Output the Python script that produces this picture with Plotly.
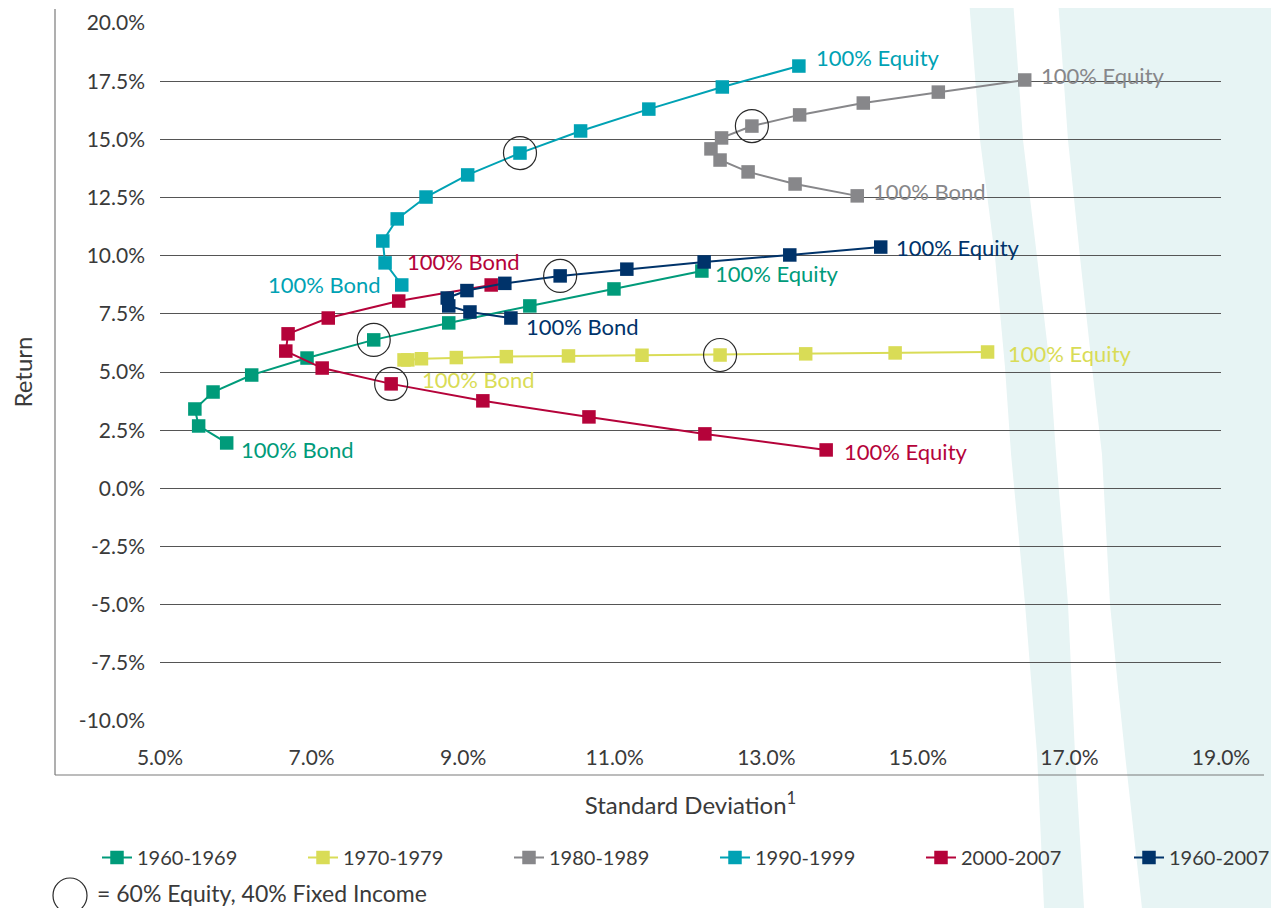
import plotly.graph_objects as go

# ---- data (x = standard deviation %, y = return %), bond end -> equity end ----
series_names = ["1960-1969", "1970-1979", "1980-1989", "1990-1999", "2000-2007", "1960-2007"]
colors = ["#009b7a", "#d9dc56", "#87878a", "#00a2b4", "#b5033a", "#00336a"]

sd_1960_1969 = [5.88, 5.51, 5.46, 5.70, 6.21, 6.94, 7.82, 8.81, 9.88, 10.99, 12.15]
ret_1960_1969 = [1.95, 2.68, 3.41, 4.14, 4.87, 5.60, 6.38, 7.11, 7.84, 8.57, 9.34]

sd_1970_1979 = [8.22, 8.27, 8.45, 8.91, 9.57, 10.39, 11.36, 12.39, 13.52, 14.70, 15.92]
ret_1970_1979 = [5.52, 5.52, 5.57, 5.62, 5.66, 5.69, 5.72, 5.73, 5.78, 5.82, 5.86]

sd_1980_1989 = [14.20, 13.38, 12.76, 12.39, 12.27, 12.41, 12.81, 13.44, 14.28, 15.27, 16.41]
ret_1980_1989 = [12.57, 13.08, 13.60, 14.11, 14.59, 15.06, 15.57, 16.05, 16.56, 17.03, 17.55]

sd_1990_1999 = [8.19, 7.97, 7.94, 8.13, 8.51, 9.06, 9.75, 10.55, 11.45, 12.42, 13.43]
ret_1990_1999 = [8.74, 9.69, 10.63, 11.58, 12.52, 13.47, 14.41, 15.36, 16.30, 17.25, 18.15]

sd_2000_2007 = [9.37, 8.15, 7.22, 6.69, 6.66, 7.14, 8.05, 9.26, 10.66, 12.19, 13.79]
ret_2000_2007 = [8.74, 8.05, 7.32, 6.64, 5.90, 5.17, 4.49, 3.76, 3.07, 2.34, 1.65]

sd_1960_2007 = [9.63, 9.09, 8.81, 8.79, 9.05, 9.55, 10.28, 11.16, 12.18, 13.31, 14.51]
ret_1960_2007 = [7.32, 7.58, 7.84, 8.18, 8.50, 8.81, 9.13, 9.42, 9.73, 10.03, 10.37]

# index of the 60% equity / 40% fixed income point in each series
mix_60_40_index = [6, 7, 6, 6, 6, 6]

x_ticks = [5, 7, 9, 11, 13, 15, 17, 19]
y_ticks = [-10, -7.5, -5, -2.5, 0, 2.5, 5, 7.5, 10, 12.5, 15, 17.5, 20]

# label offsets (px) for the "100% Bond" / "100% Equity" end labels
bond_label = [(12, -7, "left"), (16, -20, "left"), (14, 4, "left"),
              (-19, 0, "right"), (-86, 23, "left"), (13, -8, "left")]
equity_label = [(11, -2, "left"), (18, -2, "left"), (14, 5, "left"),
                (15, 9, "left"), (16, -2, "left"), (13, 0, "left")]

sds = [sd_1960_1969, sd_1970_1979, sd_1980_1989, sd_1990_1999, sd_2000_2007, sd_1960_2007]
rets = [ret_1960_1969, ret_1970_1979, ret_1980_1989, ret_1990_1999, ret_2000_2007, ret_1960_2007]

FONT = "Lato"
TXT = "#3a3a3a"
OFF = 8  # default page body margin
W, H = 1279 - OFF, 908 - OFF
L, T = 160 - OFF, 23 - OFF
PW, PH = 1061, 698
R, B = W - L - PW, H - T - PH


def px(xv):  # viewport pixel -> paper x
    return (xv - OFF - L) / PW


def py(yv):  # viewport pixel -> paper y
    return (T + PH - (yv - OFF)) / PH


fig = go.Figure()

for k, (name, col, xs, ys) in enumerate(zip(series_names, colors, sds, rets)):
    fig.add_trace(go.Scatter(
        x=xs, y=ys, mode="lines+markers", name=name,
        line=dict(color=col, width=2),
        marker=dict(symbol="square", size=13.5, color=col, line=dict(width=0)),
        legend="legend" if k < 5 else "legend2",
    ))

cx = [xs[i] for xs, i in zip(sds, mix_60_40_index)]
cy = [ys[i] for ys, i in zip(rets, mix_60_40_index)]
fig.add_trace(go.Scatter(
    x=cx, y=cy, mode="markers", showlegend=False, name="60/40",
    marker=dict(symbol="circle-open", size=33, color="#2a2a2a", line=dict(width=1.2)),
))

annotations = []
for col, xs, ys, bl, el in zip(colors, sds, rets, bond_label, equity_label):
    annotations.append(dict(x=xs[0], y=ys[0], text="100% Bond", showarrow=False,
                            xanchor=bl[2], yanchor="middle", xshift=bl[0], yshift=bl[1],
                            font=dict(family=FONT, size=22, color=col)))
    annotations.append(dict(x=xs[-1], y=ys[-1], text="100% Equity", showarrow=False,
                            xanchor=el[2], yanchor="middle", xshift=el[0], yshift=el[1],
                            font=dict(family=FONT, size=22, color=col)))

annotations.append(dict(xref="paper", yref="paper", x=px(95), y=py(893),
                        text="= 60% Equity, 40% Fixed Income", showarrow=False,
                        xanchor="left", yanchor="middle",
                        font=dict(family=FONT, size=23, color=TXT)))

band_col = "#e7f4f4"
b1_left = [(969, 0), (980, 140), (995, 257), (1005, 367), (1011, 454), (1025, 604), (1037, 754), (1044, 908)]
b1_right = [(1084, 908), (1075, 754), (1068, 604), (1056, 454), (1050, 367), (1037, 257), (1023, 140), (1013, 0)]
b2_left = [(1058, 0), (1068, 140), (1080, 257), (1092, 367), (1102, 454), (1110, 604), (1118, 687), (1125, 754), (1142, 908)]
b2_right = [(1285, 908), (1285, 0)]


def path(pts):
    return "M " + " L ".join(f"{px(a):.4f},{py(b):.4f}" for a, b in pts) + " Z"


shapes = [
    dict(type="path", xref="paper", yref="paper", path=path(b1_left + b1_right),
         fillcolor=band_col, line=dict(width=0), layer="below"),
    dict(type="path", xref="paper", yref="paper", path=path(b2_left + b2_right),
         fillcolor=band_col, line=dict(width=0), layer="below"),
    dict(type="line", xref="paper", yref="paper", x0=px(55), x1=px(55), y0=py(775), y1=py(9),
         line=dict(color="#7a7a7a", width=1.2)),
    dict(type="line", xref="paper", yref="paper", x0=px(55), x1=px(1264), y0=py(775), y1=py(775),
         line=dict(color="#7a7a7a", width=1.2)),
    dict(type="circle", xref="paper", yref="paper", x0=px(53), x1=px(87), y0=py(913), y1=py(878),
         line=dict(color="#2a2a2a", width=1.2)),
]

legend_common = dict(orientation="h", yanchor="top", xanchor="left",
                     font=dict(family=FONT, size=20, color=TXT),
                     entrywidth=161, entrywidthmode="pixels", bgcolor="rgba(0,0,0,0)",
                     tracegroupgap=0)

fig.update_layout(
    width=W, height=H,
    margin=dict(l=L, r=R, t=T, b=B, autoexpand=False),
    paper_bgcolor="white", plot_bgcolor="rgba(0,0,0,0)",
    font=dict(family=FONT, color=TXT),
    xaxis=dict(range=[5, 19], tickvals=x_ticks, ticktext=[f"{v:.1f}%" for v in x_ticks],
               showgrid=False, zeroline=False, showline=False, ticks="",
               ticklabelstandoff=22, tickfont=dict(size=21, color=TXT),
               title=dict(text="Standard Deviation<sup>1</sup>", standoff=29,
                          font=dict(size=24, color=TXT))),
    yaxis=dict(range=[-10, 20], tickvals=y_ticks, ticktext=[f"{v:.1f}%" for v in y_ticks],
               showgrid=True, gridcolor="#555555", gridwidth=1, zeroline=False, showline=False,
               ticks="", ticklabelstandoff=14, tickfont=dict(size=21, color=TXT),
               title=dict(text="Return", standoff=44, font=dict(size=24, color=TXT))),
    legend=dict(x=px(97), y=py(838), **legend_common),
    legend2=dict(x=px(1129), y=py(838), **legend_common),
    annotations=annotations,
    shapes=shapes,
    hovermode="closest",
)

fig.write_html("out.html")
